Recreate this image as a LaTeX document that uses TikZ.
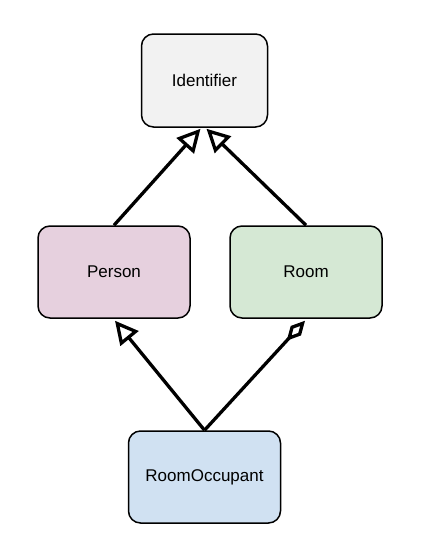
\documentclass[tikz,border=0pt]{standalone}
\usepackage{fontspec}
\setmainfont{Liberation Sans}
\usetikzlibrary{arrows.meta}
\definecolor{idfill}{HTML}{F2F2F2}
\definecolor{perfill}{HTML}{E6D0DE}
\definecolor{roomfill}{HTML}{D5E8D4}
\definecolor{occfill}{HTML}{D0E1F2}
\tikzset{
  box/.style={draw=black, line width=1.5pt, rounded corners=12pt, minimum height=92pt, inner sep=0pt, font=\fontsize{17}{20}\selectfont},
  inherit/.style={line width=3.3pt, arrows={-{Triangle[open, length=23pt, width=23pt]}}},
  aggr/.style={line width=3.3pt, arrows={-{Diamond[open, length=27pt, width=14pt]}}}
}
\begin{document}
\begin{tikzpicture}
\useasboundingbox (0pt,0pt) rectangle (425pt,-541pt);
\node[box, fill=idfill, minimum width=126pt, minimum height=93pt] (id) at (204.5pt,-80.5pt) {Identifier};
\node[box, fill=perfill, minimum width=152pt] (per) at (114pt,-272pt) {Person};
\node[box, fill=roomfill, minimum width=152pt] (room) at (306pt,-272pt) {Room};
\node[box, fill=occfill, minimum width=152pt] (occ) at (204.5pt,-477pt) {RoomOccupant};
\draw[inherit] (per.north) -- ([xshift=-4pt,yshift=-1pt]id.south);
\draw[inherit] (room.north) -- ([xshift=2pt,yshift=-1pt]id.south);
\draw[inherit] (occ.north) -- ([xshift=1pt,yshift=-2pt]per.south);
\draw[aggr] (occ.north) -- ([xshift=-1pt,yshift=-2pt]room.south);
\end{tikzpicture}
\end{document}
